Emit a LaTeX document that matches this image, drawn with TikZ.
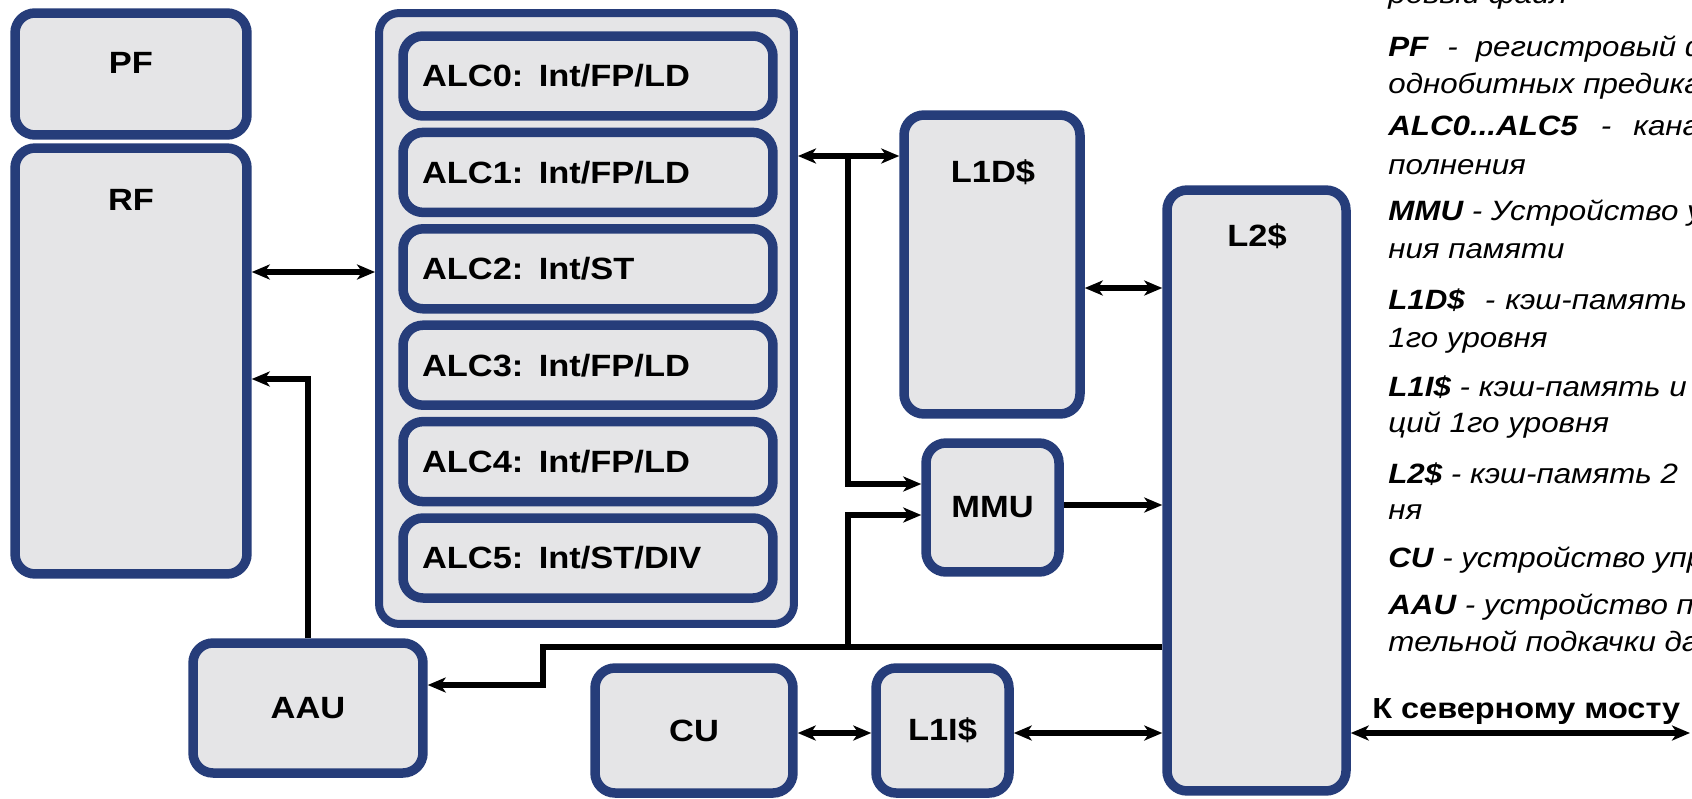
\documentclass[tikz,border=0pt]{standalone}
\usepackage{fontspec}
\setmainfont{Liberation Sans}
\newfontfamily\widesans[FakeStretch=1.12]{Liberation Sans}
\usetikzlibrary{arrows.meta, positioning, calc}
\definecolor{cpunavy}{RGB}{38,61,122}
\definecolor{cpugray}{RGB}{229,229,231}
\newcommand\boxfont{\widesans\bfseries\fontsize{17.5}{20}\selectfont}
\newcommand\legfont{\widesans\itshape\fontsize{15.9}{19}\selectfont}
\newcommand\bridgefont{\widesans\bfseries\fontsize{16.5}{19}\selectfont}

\begin{document}
\begin{tikzpicture}[x=0.02cm, y=-0.02cm,
    blk/.style={draw=cpunavy, fill=cpugray, line width=0.19cm, rounded corners=0.4cm,
                inner sep=0pt, font=\boxfont},
    alcbox/.style={blk, text width=6.64cm, inner xsep=0.38cm, minimum height=1.6cm, align=left},
    boxlbl/.style={font=\boxfont, inner sep=0pt},
    leg/.style={anchor=base west, inner sep=0pt, font=\legfont},
    con/.style={line width=0.12cm},
    arr/.style={con, -{Stealth[length=0.36cm, width=0.3cm, inset=0.1cm]}},
    dar/.style={con, {Stealth[length=0.36cm, width=0.3cm, inset=0.1cm]}-{Stealth[length=0.36cm, width=0.3cm, inset=0.1cm]}}
  ]
  \useasboundingbox (0,0) rectangle (1692,798);
  \fill[white] (0,0) rectangle (1692,798);

  % register files
  \node[blk, minimum width=4.64cm, minimum height=2.44cm] (pf) at (131,74) {};
  \node[boxlbl] (pflbl) at (131,63) {PF};
  \node[blk, minimum width=4.64cm, minimum height=8.52cm] (rf) at (131,361) {};
  \node[boxlbl] (rflbl) at (131,200) {RF};

  % execution channels
  \node[blk, line width=0.16cm, minimum width=8.3cm, minimum height=12.22cm] (alc) at (586.5,318.5) {};
  \node[alcbox] (alc0) at (588,76) {ALC0: Int/FP/LD};
  \node[alcbox] (alc1) at (588,172.4) {ALC1: Int/FP/LD};
  \node[alcbox] (alc2) at (588,268.8) {ALC2: Int/ST};
  \node[alcbox] (alc3) at (588,365.2) {ALC3: Int/FP/LD};
  \node[alcbox] (alc4) at (588,461.6) {ALC4: Int/FP/LD};
  \node[alcbox] (alc5) at (588,558) {ALC5: Int/ST/DIV};

  % memory side
  \node[blk, minimum width=3.52cm, minimum height=5.98cm] (l1d) at (992,264.5) {};
  \node[boxlbl] (l1dlbl) at (993,172) {L1D\$};
  \node[blk, minimum width=2.66cm, minimum height=2.58cm] (mmu) at (992.5,507.5) {MMU};
  \node[blk, minimum width=3.58cm, minimum height=12.02cm] (l2) at (1256.5,490.5) {};
  \node[boxlbl] (l2lbl) at (1257,236) {L2\$};
  \node[blk, minimum width=4.6cm, minimum height=2.6cm] (aau) at (308,708) {AAU};
  \node[blk, minimum width=3.96cm, minimum height=2.5cm] (cu) at (694,730.5) {CU};
  \node[blk, minimum width=2.66cm, minimum height=2.5cm] (l1i) at (942.5,730.5) {L1I\$};

  \coordinate (tap) at (848,156);
  \coordinate (busturn) at (543,647);
  \coordinate (busbr) at (848,647);
  \coordinate (nb) at (1690,733);

  \draw[dar] (rf.east |- 0,272) -- (alc.west |- 0,272);
  \draw[arr] (aau.north) |- (rf.east |- 0,379);
  \draw[dar] (alc.east |- tap) -- (l1d.west |- tap);
  \draw[arr] (tap) |- (mmu.west |- 0,484);
  \draw[arr] (busbr) |- (mmu.west |- 0,515);
  \draw[dar] (l1d.east |- 0,288) -- (l2.west |- 0,288);
  \draw[arr] (mmu.east |- 0,505) -- (l2.west |- 0,505);
  \draw[arr] (l2.west |- busturn) -- (busturn) |- (aau.east |- 0,685);
  \draw[dar] (cu.east |- nb) -- (l1i.west |- nb);
  \draw[dar] (l1i.east |- nb) -- (l2.west |- nb);
  \draw[dar] (l2.east |- nb) -- (nb);

  % legend
  \node[leg] (lg0) at (1388,3) {ровый файл};
  \node[leg] (lg1) at (1388,56) {\textbf{PF}\hspace{0.38cm}-\hspace{0.36cm}регистровый ф};
  \node[leg] (lg2) at (1388,93) {однобитных предика};
  \node[leg] (lg3) at (1388,135) {\textbf{ALC0...ALC5}\hspace{0.46cm}-\hspace{0.44cm}кана};
  \node[leg] (lg4) at (1388,174) {полнения};
  \node[leg] (lg5) at (1388,220) {\textbf{MMU} - Устройство у};
  \node[leg] (lg6) at (1388,258) {ния памяти};
  \node[leg] (lg7) at (1388,309) {\textbf{L1D\$}\hspace{0.4cm}-\hspace{0.2cm}кэш-память};
  \node[leg] (lg8) at (1388,347) {1го уровня};
  \node[leg] (lg9) at (1388,396) {\textbf{L1I\$} - кэш-память и};
  \node[leg] (lg10) at (1388,432) {ций 1го уровня};
  \node[leg] (lg11) at (1388,483) {\textbf{L2\$} - кэш-память 2};
  \node[leg] (lg12) at (1388,519) {ня};
  \node[leg] (lg13) at (1388,567) {\textbf{CU} - устройство упра};
  \node[leg] (lg14) at (1388,614) {\textbf{AAU} - устройство пр};
  \node[leg] (lg15) at (1388,651) {тельной подкачки да};
  \node[leg, font=\bridgefont] (nblbl) at (1372,718) {К северному мосту};
\end{tikzpicture}
\end{document}
